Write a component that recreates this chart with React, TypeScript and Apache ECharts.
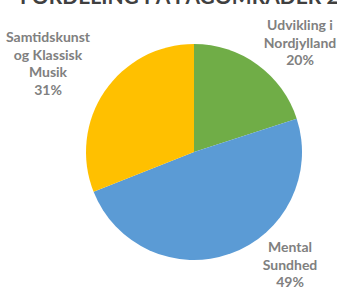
import React, { useEffect, useRef } from "react";
import * as echarts from "echarts";

const categories = ["Udvikling i\nNordjylland", "Mental\nSundhed", "Samtidskunst\nog Klassisk\nMusik"];
const values = [20, 49, 31];
const colors = ["#70AD47", "#5B9BD5", "#FFC000"];
const titleText = "FORDELING PÅ FAGOMRÅDER 2019";

const labelPos = [
  { x: 300, y: 42 },
  { x: 290, y: 264 },
  { x: 48, y: 63 },
];

export default function App() {
  const ref = useRef<HTMLDivElement>(null);
  useEffect(() => {
    document.body.style.margin = "0";
    const chart = echarts.init(ref.current!, undefined, { renderer: "svg" });
    chart.setOption({
      animation: false,
      backgroundColor: "#FFFFFF",
      title: {
        text: titleText,
        left: 15,
        top: -20,
        textStyle: {
          fontFamily: "Lato",
          fontWeight: "bold",
          fontSize: 21,
          color: "#404040",
        },
      },
      series: [
        {
          type: "pie",
          center: [194, 152],
          radius: [0, 108],
          startAngle: 90,
          clockwise: true,
          percentPrecision: 0,
          data: categories.map((c, i) => ({
            name: c,
            value: values[i],
            itemStyle: { color: colors[i] },
          })),
          itemStyle: { borderColor: "#FFFFFF", borderWidth: 0 },
          label: {
            show: true,
            position: "inside",
            formatter: "{b}\n{d}%",
            fontFamily: "Lato",
            fontWeight: "bold",
            fontSize: 14,
            lineHeight: 17.5,
            color: "#808080",
            align: "center",
            overflow: "none",
          },
          labelLine: { show: false },
          labelLayout: (params: any) => ({
            x: labelPos[params.dataIndex].x,
            y: labelPos[params.dataIndex].y,
            align: "center",
            verticalAlign: "middle",
          }),
          emphasis: { disabled: true },
        },
      ],
    });
    return () => chart.dispose();
  }, []);
  return <div ref={ref} style={{ width: 337, height: 288 }} />;
}
